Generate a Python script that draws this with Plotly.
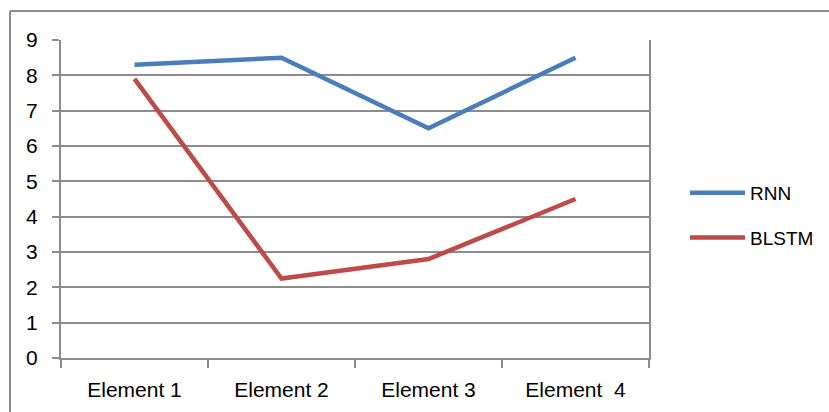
import plotly.graph_objects as go

categories = ["Element 1", "Element 2", "Element 3", "Element  4"]
rnn = [8.3, 8.5, 6.5, 8.5]
blstm = [7.9, 2.25, 2.8, 4.5]

W, H = 829, 412
L, R, T, B = 61, 829 - 649, 40, 412 - 358
pw, ph = W - L - R, H - T - B

def px_x(x):
    return (x - L) / pw

def px_y(y):
    return (H - B - y) / ph

grid = "#8c8c8c"
font = dict(family="Liberation Sans, Arial, sans-serif", size=21, color="#000000")
legend_font = dict(family="Liberation Sans, Arial, sans-serif", size=19, color="#000000")

fig = go.Figure()
fig.add_trace(go.Scatter(x=categories, y=rnn, mode="lines", name="RNN",
                         legendgroup="a",
                         line=dict(color="#4A7EBB", width=4.5)))
fig.add_trace(go.Scatter(x=categories, y=blstm, mode="lines", name="BLSTM",
                         legendgroup="b",
                         line=dict(color="#BE4B48", width=4.5)))

fig.update_layout(
    width=W, height=H,
    margin=dict(l=L, r=R, t=T, b=B, autoexpand=False),
    paper_bgcolor="white", plot_bgcolor="white",
    font=font,
    showlegend=True,
    legend=dict(x=px_x(685), y=px_y(174), xanchor="left", yanchor="top",
                font=legend_font, tracegroupgap=17, itemwidth=55,
                traceorder="grouped",
                bgcolor="rgba(0,0,0,0)"),
    xaxis=dict(type="category", showgrid=False, showline=True, linecolor=grid,
               linewidth=2, ticks="outside", tickson="boundaries", ticklen=8,
               tickcolor=grid, tickwidth=2, range=[-0.5, 3.5], fixedrange=True,
               ticklabelstandoff=12),
    yaxis=dict(range=[0, 9], dtick=1, showgrid=True, gridcolor=grid, gridwidth=2,
               showline=True, linecolor=grid, linewidth=2, mirror=True,
               ticks="outside", ticklen=7, tickcolor=grid, tickwidth=2,
               zeroline=False, ticklabelstandoff=10),
    shapes=[
        dict(type="line", xref="paper", yref="paper",
             x0=px_x(10), x1=px_x(10), y0=px_y(11), y1=px_y(420),
             line=dict(color="#8c8c8c", width=2)),
        dict(type="line", xref="paper", yref="paper",
             x0=px_x(10), x1=px_x(835), y0=px_y(11), y1=px_y(11),
             line=dict(color="#8c8c8c", width=2)),
    ],
)

fig.write_html("out.html")
